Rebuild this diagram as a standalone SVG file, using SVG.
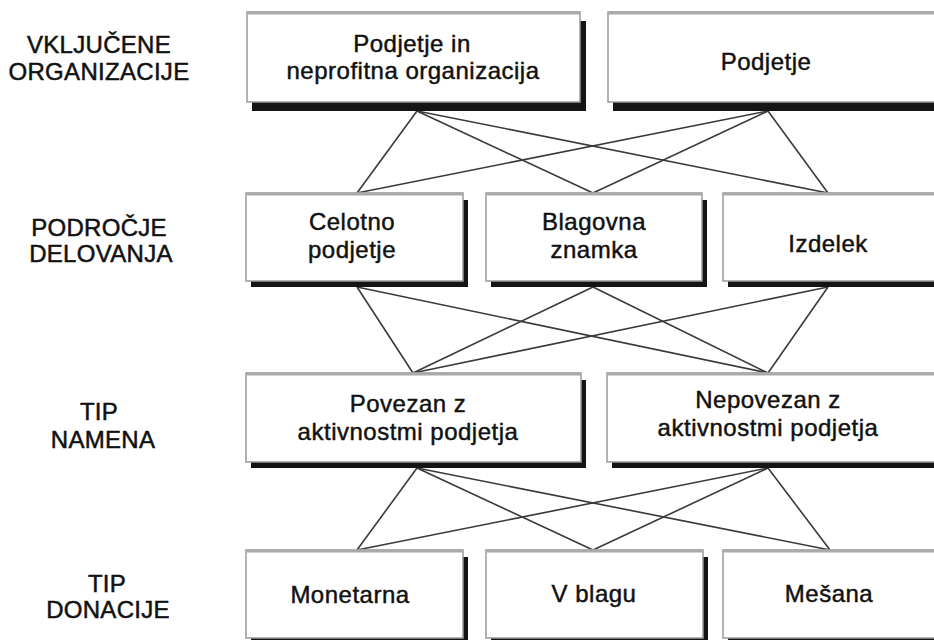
<svg xmlns="http://www.w3.org/2000/svg" width="934" height="640" viewBox="0 0 934 640">
<style>
  .shadow { fill: #141414; }
  .box { fill: #ffffff; stroke: #9a9a9a; stroke-width: 1.5; }
  .topedge { stroke: #aaaaaa; stroke-width: 3; }
  .t { font-family: "Liberation Sans", Arial, sans-serif; font-size: 24px; fill: #111111; stroke: #111111; stroke-width: 0.45; text-anchor: middle; letter-spacing: 0.5px; }
  .lbl { font-family: "Liberation Sans", Arial, sans-serif; font-size: 24px; fill: #111111; stroke: #111111; stroke-width: 0.5; text-anchor: middle; letter-spacing: 0.3px; }
  .conn line { stroke: #3a3a3a; stroke-width: 1.6; }
</style>
<rect width="934" height="640" fill="#ffffff"/>

<g id="labels">
  <text class="lbl" x="99" y="53">VKLJUČENE</text>
  <text class="lbl" x="99" y="80">ORGANIZACIJE</text>
  <text class="lbl" x="99" y="236">PODROČJE</text>
  <text class="lbl" x="101" y="262">DELOVANJA</text>
  <text class="lbl" x="99" y="420">TIP</text>
  <text class="lbl" x="103" y="448">NAMENA</text>
  <text class="lbl" x="107" y="592">TIP</text>
  <text class="lbl" x="108" y="618">DONACIJE</text>
</g>

<g id="connectors" class="conn">
  <line x1="417" y1="111" x2="357" y2="193"/>
  <line x1="417" y1="111" x2="593" y2="193"/>
  <line x1="417" y1="111" x2="828" y2="193"/>
  <line x1="768" y1="111" x2="357" y2="193"/>
  <line x1="768" y1="111" x2="593" y2="193"/>
  <line x1="768" y1="111" x2="828" y2="193"/>

  <line x1="357" y1="287" x2="413" y2="373"/>
  <line x1="357" y1="287" x2="768" y2="373"/>
  <line x1="593" y1="287" x2="413" y2="373"/>
  <line x1="593" y1="287" x2="768" y2="373"/>
  <line x1="828" y1="287" x2="413" y2="373"/>
  <line x1="828" y1="287" x2="768" y2="373"/>

  <line x1="417" y1="468" x2="357" y2="550"/>
  <line x1="417" y1="468" x2="593" y2="550"/>
  <line x1="417" y1="468" x2="830" y2="550"/>
  <line x1="768" y1="468" x2="357" y2="550"/>
  <line x1="768" y1="468" x2="593" y2="550"/>
  <line x1="768" y1="468" x2="830" y2="550"/>
</g>

<g id="n-podjetje-npo">
  <rect class="shadow" x="252" y="21" width="334" height="90"/>
  <rect class="box" x="247" y="12" width="333" height="90"/>
  <line class="topedge" x1="247" y1="13" x2="580" y2="13"/>
  <text class="t" x="412" y="52">Podjetje in</text>
  <text class="t" x="413" y="79">neprofitna organizacija</text>
</g>
<g id="n-podjetje">
  <rect class="shadow" x="613" y="21" width="330" height="90"/>
  <rect class="box" x="608" y="12" width="330" height="90"/>
  <line class="topedge" x1="608" y1="13" x2="934" y2="13"/>
  <text class="t" x="766" y="70">Podjetje</text>
</g>

<g id="n-celotno">
  <rect class="shadow" x="251" y="200" width="217" height="87"/>
  <rect class="box" x="246" y="193" width="217" height="88"/>
  <line class="topedge" x1="246" y1="194" x2="463" y2="194"/>
  <text class="t" x="352" y="230">Celotno</text>
  <text class="t" x="352" y="258">podjetje</text>
</g>
<g id="n-blagovna">
  <rect class="shadow" x="491" y="200" width="216" height="87"/>
  <rect class="box" x="486" y="193" width="216" height="88"/>
  <line class="topedge" x1="486" y1="194" x2="702" y2="194"/>
  <text class="t" x="594" y="230">Blagovna</text>
  <text class="t" x="594" y="258">znamka</text>
</g>
<g id="n-izdelek">
  <rect class="shadow" x="728" y="200" width="215" height="87"/>
  <rect class="box" x="723" y="193" width="215" height="88"/>
  <line class="topedge" x1="723" y1="194" x2="934" y2="194"/>
  <text class="t" x="828" y="252">Izdelek</text>
</g>

<g id="n-povezan">
  <rect class="shadow" x="251" y="380" width="335" height="88"/>
  <rect class="box" x="246" y="373" width="335" height="89"/>
  <line class="topedge" x1="246" y1="374" x2="581" y2="374"/>
  <text class="t" x="408" y="412">Povezan z</text>
  <text class="t" x="408" y="440">aktivnostmi podjetja</text>
</g>
<g id="n-nepovezan">
  <rect class="shadow" x="612" y="380" width="330" height="88"/>
  <rect class="box" x="607" y="373" width="330" height="89"/>
  <line class="topedge" x1="607" y1="374" x2="934" y2="374"/>
  <text class="t" x="768" y="408">Nepovezan z</text>
  <text class="t" x="768" y="436">aktivnostmi podjetja</text>
</g>

<g id="n-monetarna">
  <rect class="shadow" x="251" y="557" width="217" height="88"/>
  <rect class="box" x="246" y="550" width="217" height="88"/>
  <line class="topedge" x1="246" y1="551" x2="463" y2="551"/>
  <text class="t" x="350" y="603">Monetarna</text>
</g>
<g id="n-vblagu">
  <rect class="shadow" x="491" y="557" width="217" height="88"/>
  <rect class="box" x="486" y="550" width="217" height="88"/>
  <line class="topedge" x1="486" y1="551" x2="703" y2="551"/>
  <text class="t" x="594" y="602">V blagu</text>
</g>
<g id="n-mesana">
  <rect class="shadow" x="728" y="557" width="215" height="88"/>
  <rect class="box" x="723" y="550" width="215" height="88"/>
  <line class="topedge" x1="723" y1="551" x2="934" y2="551"/>
  <text class="t" x="829" y="602">Mešana</text>
</g>
</svg>
